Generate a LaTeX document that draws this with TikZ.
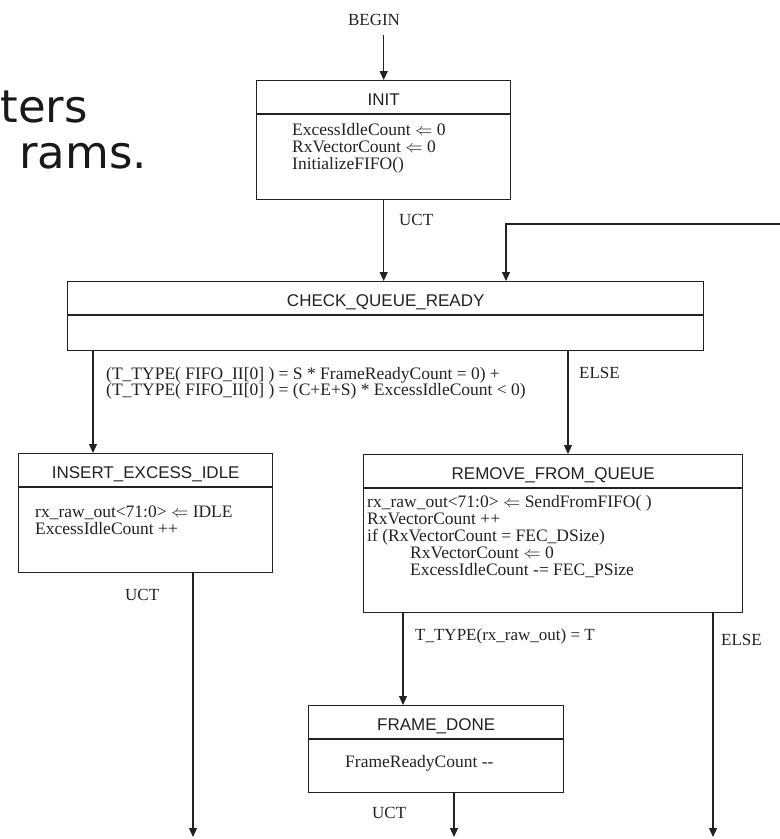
\documentclass[tikz,border=0pt]{standalone}
\usepackage{fontspec}
\setmainfont{Liberation Serif}
\setsansfont{Liberation Sans}
\newfontfamily\slidefont{DejaVu Sans}
\usetikzlibrary{positioning, arrows.meta}
\definecolor{ink}{HTML}{222222}

\begin{document}
\begin{tikzpicture}[x=1pt, y=-1pt,
  box/.style={draw=ink, line width=1.4pt, inner sep=0, anchor=north west},
  title/.style={font=\sffamily\fontsize{17}{17}\selectfont, text=ink, inner sep=0, anchor=base},
  body/.style={font=\fontsize{17.5}{17}\selectfont, text=ink, align=left, inner sep=0, anchor=north west},
  lbl/.style={font=\fontsize{17}{17}\selectfont, text=ink, inner sep=0, anchor=base west},
  slide/.style={anchor=base east, inner sep=0, font=\slidefont\fontsize{45}{45}\selectfont, text=black!90},
  arr/.style={draw=ink, line width=1.2pt, -{Triangle[length=9pt,width=8pt]}}]
\useasboundingbox (0,0) rectangle (780,839);

% slide text behind the chart (cut off at the left)
\node[slide] (slideA) at (88,122) {ters};
\node[slide] (slideB) at (147,168) {rams.};

% states
\node[box, minimum width=254pt, minimum height=119pt] (init) at (256,80) {};
\node[box, minimum width=636pt, minimum height=69pt] (check) at (67,281) {};
\node[box, minimum width=254pt, minimum height=119pt] (insert) at (18,453) {};
\node[box, minimum width=379pt, minimum height=158pt] (remove) at (363,454) {};
\node[box, minimum width=255pt, minimum height=87pt] (frame) at (308,705) {};

% header line and state name
\foreach \s/\t in {init/INIT, check/CHECK\_QUEUE\_READY, insert/INSERT\_EXCESS\_IDLE,
                   remove/REMOVE\_FROM\_QUEUE, frame/FRAME\_DONE} {
  \draw[draw=ink, line width=1.4pt] ([yshift=-34pt]\s.north west) -- ([yshift=-34pt]\s.north east);
  \node[title] (\s-name) at ([yshift=-25pt]\s.north) {\t};
}

% actions
\node[body] (init-act) at (292,123) {ExcessIdleCount $\Leftarrow$ 0\\RxVectorCount $\Leftarrow$ 0\\InitializeFIFO()};
\node[body] (insert-act) at (35,506) {rx\_raw\_out<71:0> $\Leftarrow$ IDLE\\ExcessIdleCount ++};
\node[body] (remove-act) at (367,495) {rx\_raw\_out<71:0> $\Leftarrow$ SendFromFIFO( )\\RxVectorCount ++\\
  if (RxVectorCount = FEC\_DSize)\\\hspace*{43pt}RxVectorCount $\Leftarrow$ 0\\\hspace*{43pt}ExcessIdleCount -= FEC\_PSize};
\node[body, anchor=base west] (frame-act) at (345,767) {FrameReadyCount -{}-};

% transition labels
\node[lbl, anchor=base] (begin) at (374,25) {BEGIN};
\node[lbl] (uct1) at (399,225) {UCT};
\node[body, font=\fontsize{17.5}{16}\selectfont] (cond) at (106,367)
  {(T\_TYPE( FIFO\_II[0] ) = S * FrameReadyCount = 0) +\\(T\_TYPE( FIFO\_II[0] ) = (C+E+S) * ExcessIdleCount < 0)};
\node[lbl] (else1) at (579,378) {ELSE};
\node[lbl] (uct2) at (125,600) {UCT};
\node[lbl] (ttype) at (415,640) {T\_TYPE(rx\_raw\_out) = T};
\node[lbl] (else2) at (721,645) {ELSE};
\node[lbl] (uct3) at (372,818) {UCT};

% columns of the transitions
\coordinate (loop) at (780,224);
\coordinate (colL) at (506,0);
\coordinate (colA) at (93,0);
\coordinate (colB) at (568,0);
\coordinate (colC) at (193,0);
\coordinate (colD) at (403,0);
\coordinate (colE) at (713,0);
\coordinate (colF) at (454,0);
\coordinate (floor) at (0,837);

% transitions
\draw[arr] ([yshift=-10pt]begin.base -| init.north) -- (init.north);
\draw[arr] (init.south) -- (init.south |- check.north);
\draw[arr] (loop) -| (colL |- check.north);
\draw[arr] (colA |- check.south) -- (colA |- insert.north);
\draw[arr] (colB |- check.south) -- (colB |- remove.north);
\draw[arr] (colC |- insert.south) -- (colC |- floor);
\draw[arr] (colD |- remove.south) -- (colD |- frame.north);
\draw[arr] (colE |- remove.south) -- (colE |- floor);
\draw[arr] (colF |- frame.south) -- (colF |- floor);
\end{tikzpicture}
\end{document}
